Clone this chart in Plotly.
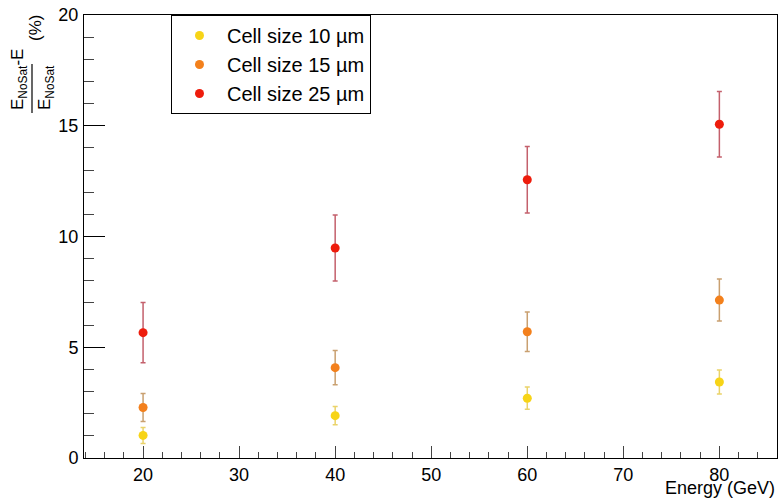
import plotly.graph_objects as go

energy = [20, 40, 60, 80]

names = ["Cell size 10 \u00b5m", "Cell size 15 \u00b5m", "Cell size 25 \u00b5m"]
vals_10 = [1.02, 1.91, 2.70, 3.43]
errs_10 = [0.36, 0.41, 0.50, 0.54]
vals_15 = [2.28, 4.08, 5.70, 7.13]
errs_15 = [0.63, 0.77, 0.89, 0.95]
vals_25 = [5.66, 9.48, 12.56, 15.07]
errs_25 = [1.36, 1.49, 1.50, 1.48]

x_ticks = [20, 30, 40, 50, 60, 70, 80]
y_ticks = [0, 5, 10, 15, 20]

marker_colors = ["#f7d417", "#f3801c", "#ee1c0c"]
bar_colors = ["#ead36a", "#c9a070", "#c4606c"]

FONT = "Liberation Sans, Arial, Helvetica, sans-serif"

fig = go.Figure()
for name, v, e, mc, bc in zip(names, [vals_10, vals_15, vals_25], [errs_10, errs_15, errs_25],
                              marker_colors, bar_colors):
    fig.add_trace(go.Scatter(
        x=energy, y=v, mode="markers", name=name,
        marker=dict(color=mc, size=9, line=dict(width=0)),
        error_y=dict(type="data", array=e, visible=True, color=bc, thickness=1.5, width=2.5),
    ))

W, H = 778, 498
L, R, T, B = 84, 1, 15, 40
pw = W - L - R
ph = H - T - B

def px_x(px):
    return (px - L) / pw

def px_y(py):
    return 1 - (py - T) / ph

fig.update_layout(
    width=W, height=H,
    margin=dict(l=L, r=R, t=T, b=B, pad=0),
    paper_bgcolor="white", plot_bgcolor="white",
    font=dict(family=FONT, color="black", size=18),
    showlegend=True,
    legend=dict(
        x=px_x(171), y=1, xanchor="left", yanchor="top",
        bgcolor="white", bordercolor="black", borderwidth=1,
        font=dict(family=FONT, size=20, color="black"),
        itemwidth=45, tracegroupgap=0,
    ),
    xaxis=dict(
        range=[13.85, 86.0], showgrid=False, zeroline=False,
        showline=True, linecolor="black", linewidth=1, mirror=True,
        ticks="inside", ticklen=12, tickcolor="#444", tickwidth=1,
        tickvals=x_ticks, ticktext=[str(t) for t in x_ticks],
        tickfont=dict(family=FONT, size=18),
        minor=dict(ticks="inside", ticklen=6, dtick=2, tick0=0, tickcolor="#444", showgrid=False),
    ),
    yaxis=dict(
        range=[0, 20], showgrid=False, zeroline=False,
        showline=True, linecolor="black", linewidth=1, mirror=True,
        ticks="inside", ticklen=21, tickcolor="black", tickwidth=1,
        tickvals=y_ticks, ticktext=[str(t) for t in y_ticks],
        tickfont=dict(family=FONT, size=18),
        ticklabelstandoff=1,
        minor=dict(ticks="inside", ticklen=10, dtick=1, tick0=0, tickcolor="#444", showgrid=False),
        automargin=False,
    ),
)

# x-axis title
fig.add_annotation(
    text="Energy (GeV)", xref="paper", yref="paper",
    x=1.0, y=px_y(500), xanchor="right", yanchor="bottom",
    showarrow=False, font=dict(family=FONT, size=18),
)

# y-axis title: (E_NoSat - E) / E_NoSat  (%)
fig.add_annotation(
    text="E<sub>NoSat</sub>-E", xref="paper", yref="paper",
    x=px_x(19), y=px_y(80), xanchor="center", yanchor="middle",
    textangle=-90, showarrow=False, font=dict(family=FONT, size=17),
)
fig.add_annotation(
    text="E<sub>NoSat</sub>", xref="paper", yref="paper",
    x=px_x(46), y=px_y(88), xanchor="center", yanchor="middle",
    textangle=-90, showarrow=False, font=dict(family=FONT, size=17),
)
fig.add_annotation(
    text="(%)", xref="paper", yref="paper",
    x=px_x(35), y=px_y(28), xanchor="center", yanchor="middle",
    textangle=-90, showarrow=False, font=dict(family=FONT, size=17),
)
fig.add_shape(
    type="line", xref="paper", yref="paper",
    x0=px_x(32), x1=px_x(32), y0=px_y(64), y1=px_y(113),
    line=dict(color="black", width=1.2),
)

fig.write_html("out.html")
